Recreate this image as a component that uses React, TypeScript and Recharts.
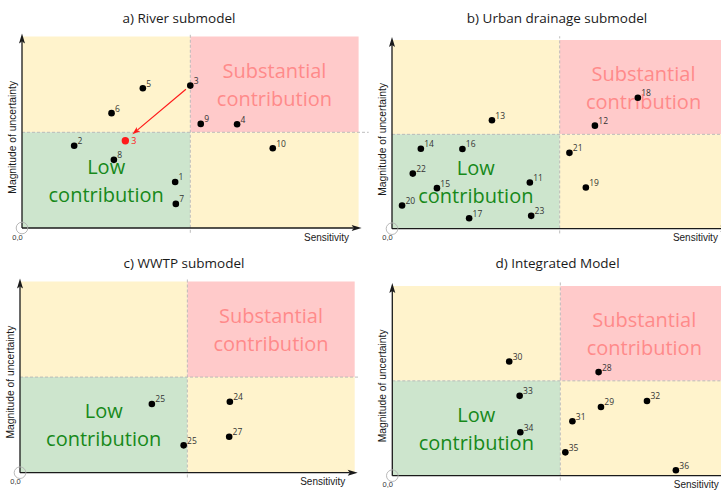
import React from 'react';
import { ScatterChart, Scatter, XAxis, YAxis, ReferenceArea, ReferenceLine, ReferenceDot } from 'recharts';

// ---------- data ----------
const titles = ['a) River submodel', 'b) Urban drainage submodel', 'c) WWTP submodel', 'd) Integrated Model'];
const xAxisLabel = 'Sensitivity';
const yAxisLabel = 'Magnitude of uncertainty';
const originLabel = '0,0';
const highLines = ['Substantial', 'contribution'];
const lowLines = ['Low', 'contribution'];

const riverLabels = ['5', '3', '6', '9', '4', '2', '10', '8', '1', '7'];
const riverX = [3.59, 5.0, 2.66, 5.31, 6.39, 1.55, 7.45, 2.73, 4.55, 4.57];
const riverY = [7.3, 7.44, 6.0, 5.44, 5.42, 4.3, 4.17, 3.56, 2.4, 1.26];
const riverMovedLabels = ['3'];
const riverMovedX = [3.07];
const riverMovedY = [4.56];
const riverArrowX = [4.87, 3.28];
const riverArrowY = [7.25, 4.9];

const urbanLabels = ['18', '13', '12', '14', '16', '21', '22', '11', '15', '19', '20', '17', '23'];
const urbanX = [7.33, 2.98, 6.05, 0.86, 2.1, 5.29, 0.62, 4.11, 1.34, 5.78, 0.3, 2.3, 4.15];
const urbanY = [6.94, 5.75, 5.46, 4.24, 4.22, 4.02, 2.92, 2.45, 2.15, 2.18, 1.23, 0.55, 0.68];

const wwtpLabels = ['25', '24', '27', '25'];
const wwtpX = [3.94, 6.27, 6.25, 4.89];
const wwtpY = [3.59, 3.71, 1.88, 1.43];

const integLabels = ['30', '28', '33', '32', '29', '31', '34', '35', '36'];
const integX = [3.48, 6.14, 3.79, 7.58, 6.21, 5.36, 3.81, 5.15, 8.44];
const integY = [6.02, 5.46, 4.21, 3.94, 3.62, 2.87, 2.29, 1.23, 0.29];

// ---------- styles ----------
const YELLOW = '#FFF3CC';
const PINK = '#FFCACA';
const GREEN = '#CDE5CD';
const HIGH_TEXT = '#FF8A8A';
const LOW_TEXT = '#17891A';
const SANS = '"Open Sans", "Noto Sans", sans-serif';
const ARIAL = '"Liberation Sans", Arial, sans-serif';

type Layout = {
  left: number; top: number; width: number; height: number;
  margin: { top: number; left: number; right: number; bottom: number };
  titleX: number; hLineEnd: number;
};

const layouts: Layout[] = [
  { left: 0, top: 0, width: 375, height: 245, margin: { top: 36.6, left: 22, right: 16.4, bottom: 17 }, titleX: 179, hLineEnd: 10.3 },
  { left: 360, top: 0, width: 380, height: 245, margin: { top: 40, left: 32, right: 12.6, bottom: 16.3 }, titleX: 197, hLineEnd: 10.1 },
  { left: 0, top: 245, width: 375, height: 245, margin: { top: 36.5, left: 20, right: 20.3, bottom: 17.3 }, titleX: 184, hLineEnd: 10.1 },
  { left: 360, top: 245, width: 380, height: 245, margin: { top: 41, left: 32.3, right: 11.7, bottom: 14.3 }, titleX: 197.5, hLineEnd: 10.1 },
];

const makeArrow = (color: string, sw: number, headLen: number, headHalf: number) => (props: any) => {
  const { x1, y1, x2, y2 } = props;
  if ([x1, y1, x2, y2].some((v) => v == null || isNaN(v))) return <g />;
  const dx = x2 - x1;
  const dy = y2 - y1;
  const len = Math.hypot(dx, dy) || 1;
  const ux = dx / len;
  const uy = dy / len;
  const bx = x2 - ux * headLen;
  const by = y2 - uy * headLen;
  const px = -uy;
  const py = ux;
  return (
    <g>
      <line x1={x1} y1={y1} x2={bx + ux * 2} y2={by + uy * 2} stroke={color} strokeWidth={sw} />
      <polygon
        points={`${x2},${y2} ${bx + px * headHalf},${by + py * headHalf} ${bx + ux * 2},${by + uy * 2} ${bx - px * headHalf},${by - py * headHalf}`}
        fill={color}
      />
    </g>
  );
};

const axisArrow = makeArrow('#1a1a1a', 1.3, 10, 3);
const redArrow = makeArrow('#FF1A1A', 1.2, 8, 2.8);

const makeDot = (color: string, r: number, textColor: string, dx: number, dy: number, fs: number) => (p: any) => {
  if (p == null || p.cx == null || p.cy == null) return <g />;
  return (
    <g>
      <circle cx={p.cx} cy={p.cy} r={r} fill={color} />
      <text x={p.cx + dx} y={p.cy + dy} fontSize={fs} fill={textColor} fontFamily={SANS}>
        {p.payload?.label}
      </text>
    </g>
  );
};

const blackDot = makeDot('#000', 3.3, '#333', 3.4, -1.6, 8.5);
const redDot = makeDot('#FF1A1A', 3.7, '#FF1A1A', 6, 3.5, 9);

const quadText = (lines: string[], color: string) => (p: any) => {
  if (p == null || p.cx == null) return <g />;
  return (
    <g>
      {lines.map((t, i) => (
        <text
          key={i}
          x={p.cx}
          y={p.cy + (i === 0 ? -14 : 14)}
          textAnchor="middle"
          dominantBaseline="central"
          fontSize={20}
          fill={color}
          fontFamily={SANS}
        >
          {t}
        </text>
      ))}
    </g>
  );
};

const originDot = (p: any) => {
  if (p == null || p.cx == null) return <g />;
  return (
    <g>
      <circle cx={p.cx} cy={p.cy} r={5.8} fill="none" stroke="#B0B0B0" strokeWidth={0.9} />
      <text x={p.cx - 4.5} y={p.cy + 11.5} textAnchor="middle" fontSize={7.5} fill="#333" fontFamily={ARIAL}>
        {originLabel}
      </text>
    </g>
  );
};

type PanelProps = {
  title: string;
  labels: string[];
  xs: number[];
  ys: number[];
  layout: Layout;
  river?: boolean;
};

function Panel({ title, labels, xs, ys, layout, river }: PanelProps) {
  const data = labels.map((l, i) => ({ x: xs[i], y: ys[i], label: l }));
  const moved = riverMovedLabels.map((l, i) => ({ x: riverMovedX[i], y: riverMovedY[i], label: l }));
  const { margin, width, height } = layout;
  const plotLeft = margin.left;
  const plotRight = width - margin.right;
  const plotTop = margin.top;
  const plotBottom = height - margin.bottom;
  const plotMidY = (plotTop + plotBottom) / 2;
  return (
    <div style={{ position: 'absolute', left: layout.left, top: layout.top, width, height }}>
      <ScatterChart width={width} height={height} margin={margin}>
        <XAxis type="number" dataKey="x" domain={[0, 10]} hide />
        <YAxis type="number" dataKey="y" domain={[0, 10]} hide />
        <ReferenceArea x1={0} x2={5} y1={5} y2={10} fill={YELLOW} fillOpacity={1} stroke="none" />
        <ReferenceArea x1={5} x2={10} y1={5} y2={10} fill={PINK} fillOpacity={1} stroke="none" />
        <ReferenceArea x1={0} x2={5} y1={0} y2={5} fill={GREEN} fillOpacity={1} stroke="none" />
        <ReferenceArea x1={5} x2={10} y1={0} y2={5} fill={YELLOW} fillOpacity={1} stroke="none" />
        <ReferenceLine
          segment={[{ x: 5, y: -0.25 }, { x: 5, y: 10.2 }]}
          stroke="#B5B5B5"
          strokeDasharray="3 2"
          strokeWidth={0.9}
          ifOverflow="visible"
        />
        <ReferenceLine
          segment={[{ x: 0, y: 5 }, { x: layout.hLineEnd, y: 5 }]}
          stroke="#B5B5B5"
          strokeDasharray="3 2"
          strokeWidth={0.9}
          ifOverflow="visible"
        />
        <ReferenceDot x={7.5} y={7.5} r={0} ifOverflow="visible" shape={quadText(highLines, HIGH_TEXT)} />
        <ReferenceDot x={2.5} y={2.5} r={0} ifOverflow="visible" shape={quadText(lowLines, LOW_TEXT)} />
        <ReferenceLine segment={[{ x: 0, y: 0 }, { x: 0, y: 10.16 }]} ifOverflow="visible" shape={axisArrow} />
        <ReferenceLine segment={[{ x: 0, y: 0 }, { x: 10.09, y: 0 }]} ifOverflow="visible" shape={axisArrow} />
        <ReferenceDot x={0} y={0} r={0} ifOverflow="visible" shape={originDot} />
        {river && (
          <ReferenceLine
            segment={[{ x: riverArrowX[0], y: riverArrowY[0] }, { x: riverArrowX[1], y: riverArrowY[1] }]}
            ifOverflow="visible"
            shape={redArrow}
          />
        )}
        <Scatter data={data} shape={blackDot} isAnimationActive={false} />
        {river && <Scatter data={moved} shape={redDot} isAnimationActive={false} />}
        <text x={layout.titleX} y={22.5} textAnchor="middle" fontSize={13.5} fill="#1a1a1a" fontFamily={SANS}>
          {title}
        </text>
        <text x={plotRight - 9.5} y={plotBottom + 12.5} textAnchor="end" fontSize={10} fill="#1a1a1a" fontFamily={ARIAL}>
          {xAxisLabel}
        </text>
        <text
          x={plotLeft - 6}
          y={plotMidY + 5}
          textAnchor="middle"
          fontSize={10.3}
          fill="#1a1a1a"
          fontFamily={ARIAL}
          transform={`rotate(-90 ${plotLeft - 6} ${plotMidY + 5})`}
        >
          {yAxisLabel}
        </text>
      </ScatterChart>
    </div>
  );
}

export default function App() {
  return (
    <div style={{ position: 'absolute', left: 0, top: 0, width: 721, height: 490, overflow: 'hidden', background: '#fff' }}>
      <Panel title={titles[0]} labels={riverLabels} xs={riverX} ys={riverY} layout={layouts[0]} river />
      <Panel title={titles[1]} labels={urbanLabels} xs={urbanX} ys={urbanY} layout={layouts[1]} />
      <Panel title={titles[2]} labels={wwtpLabels} xs={wwtpX} ys={wwtpY} layout={layouts[2]} />
      <Panel title={titles[3]} labels={integLabels} xs={integX} ys={integY} layout={layouts[3]} />
    </div>
  );
}
